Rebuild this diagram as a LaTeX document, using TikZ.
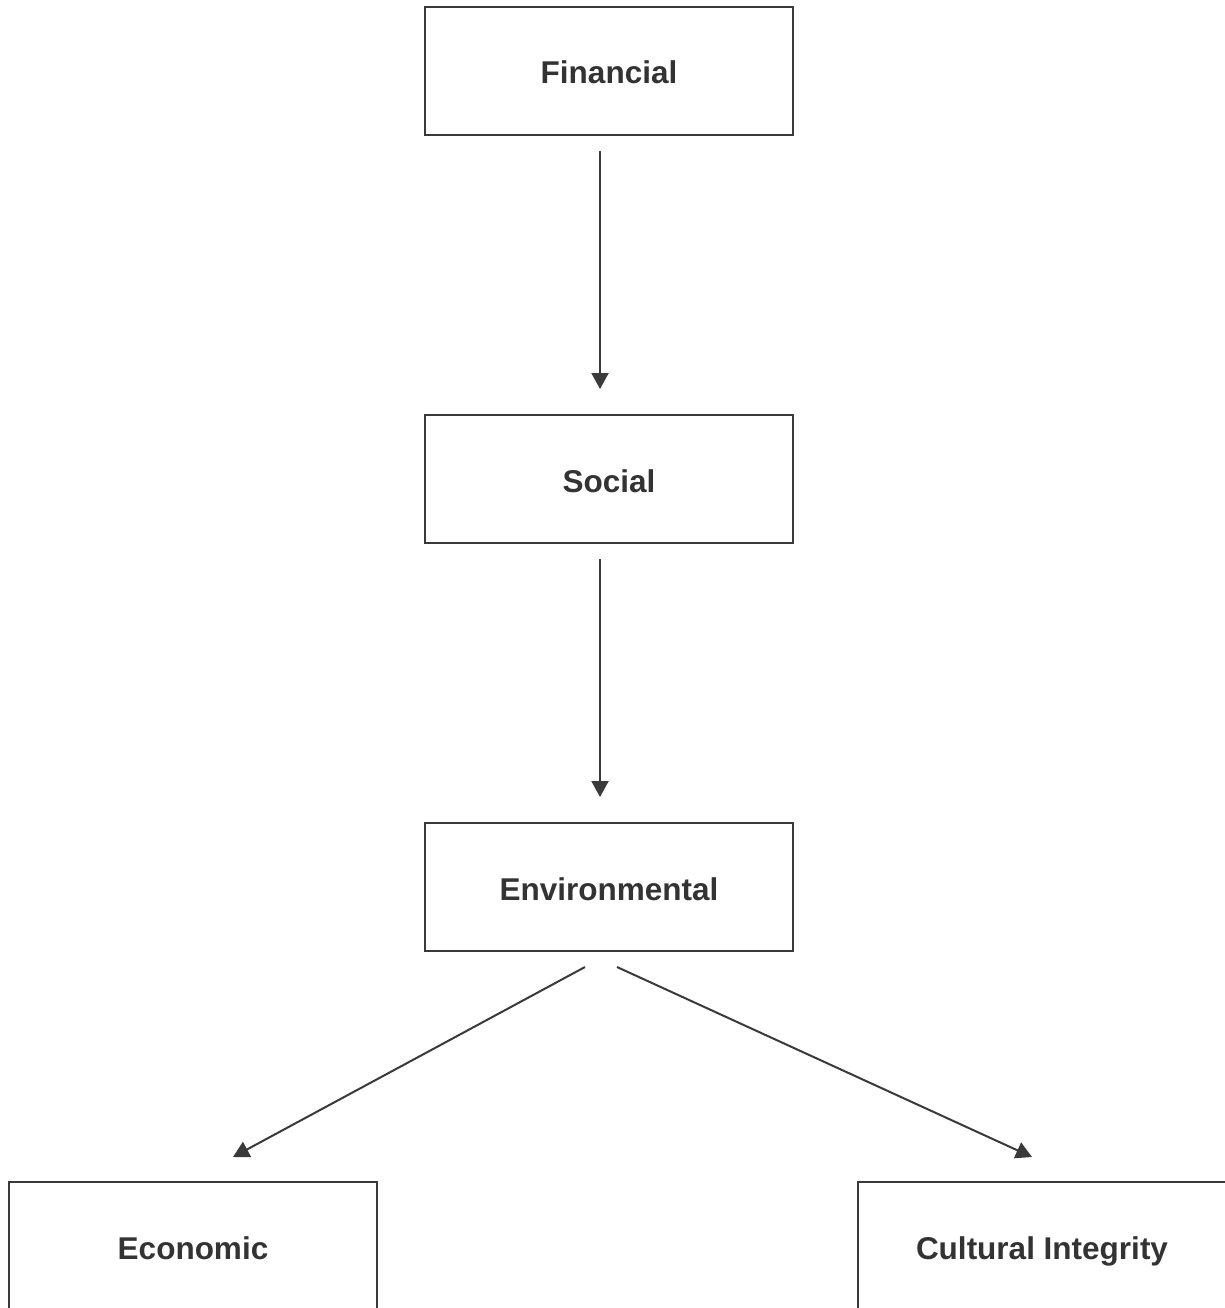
\documentclass[tikz,border=0pt]{standalone}
\usepackage{fontspec}
\setmainfont{Liberation Sans}
\usetikzlibrary{arrows.meta}
\definecolor{txt}{HTML}{333333}
\definecolor{ln}{HTML}{3A3A3A}
\begin{document}
\begin{tikzpicture}[x=1pt,y=-1pt,
  box/.style={draw=ln,line width=2pt,rectangle,minimum width=368pt,minimum height=128pt,inner sep=0pt,
    text=txt,font=\fontsize{31.5}{38}\selectfont\bfseries,text height=26pt,text depth=0pt},
  arr/.style={draw=ln,line width=2pt,-{Triangle[length=16pt,width=17pt]}}]
\useasboundingbox (0,0) rectangle (1225,1308);
\fill[white] (0,0) rectangle (1225,1308);
\node[box] (fin) at (609,71) {Financial};
\node[box] (soc) at (609,479) {Social};
\node[box] (env) at (609,887) {Environmental};
\node[box] (eco) at (193,1246) {Economic};
\node[box] (cul) at (1042,1246) {Cultural Integrity};
\coordinate (a1) at ([shift={(-9,15)}]fin.south);
\coordinate (a2) at ([shift={(-9,-25)}]soc.north);
\coordinate (b1) at ([shift={(-9,15)}]soc.south);
\coordinate (b2) at ([shift={(-9,-25)}]env.north);
\coordinate (c1) at ([shift={(-24,15)}]env.south);
\coordinate (c2) at ([shift={(40,-24)}]eco.north);
\coordinate (d1) at ([shift={(8,15)}]env.south);
\coordinate (d2) at ([shift={(-10,-24)}]cul.north);
\draw[arr] (a1) -- (a2);
\draw[arr] (b1) -- (b2);
\draw[arr] (c1) -- (c2);
\draw[arr] (d1) -- (d2);
\end{tikzpicture}
\end{document}
